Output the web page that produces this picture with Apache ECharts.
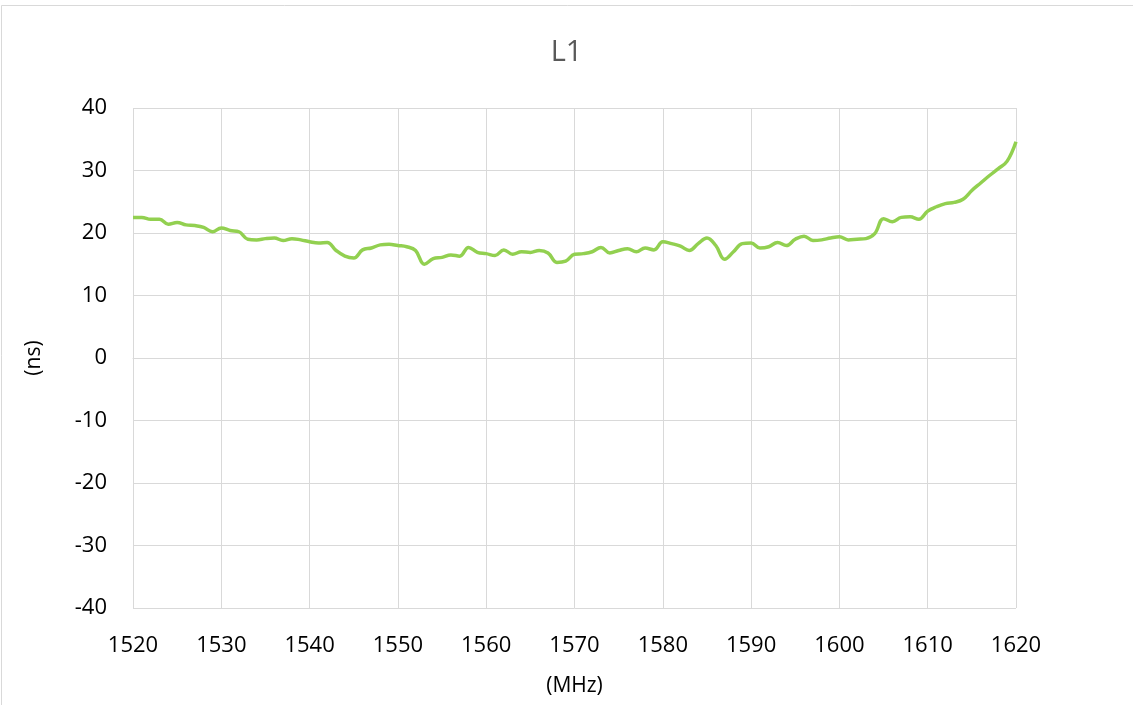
<!DOCTYPE html>
<html>
<head>
<meta charset="utf-8">
<script src="https://cdn.jsdelivr.net/npm/echarts@6/dist/echarts.min.js"></script>
<style>
  html, body { margin: 0; padding: 0; background: #fff; }
  #chart { width: 1133px; height: 705px; }
</style>
</head>
<body>
<div id="chart"></div>
<script>
// 频率 (MHz) 与群时延 (ns)
var freqs = [];
for (var f = 1520; f <= 1620; f++) freqs.push(f);

var delays = [
  22.5, 22.5, 22.2, 22.2, 21.4, 21.7, 21.3, 21.2, 20.9, 20.2,
  20.8, 20.4, 20.2, 19.0, 18.9, 19.1, 19.2, 18.8, 19.1, 18.9,
  18.6, 18.4, 18.5, 17.2, 16.3, 16.0, 17.3, 17.6, 18.1, 18.2,
  18.0, 17.8, 17.2, 15.0, 15.9, 16.1, 16.5, 16.3, 17.7, 16.9,
  16.7, 16.4, 17.3, 16.6, 17.0, 16.9, 17.2, 16.8, 15.3, 15.5,
  16.6, 16.7, 17.0, 17.7, 16.8, 17.2, 17.5, 17.0, 17.6, 17.3,
  18.6, 18.3, 17.9, 17.2, 18.3, 19.2, 18.0, 15.8, 17.0, 18.3,
  18.4, 17.6, 17.8, 18.5, 18.0, 19.0, 19.5, 18.8, 18.9, 19.2,
  19.4, 18.9, 19.0, 19.1, 19.9, 22.3, 21.8, 22.5, 22.6, 22.2,
  23.5, 24.2, 24.7, 24.9, 25.4, 26.8, 28.0, 29.2, 30.3, 31.5,
  34.6
];

var lineData = freqs.map(function (x, i) { return [x, delays[i]]; });

var dom = document.getElementById("chart");
var myChart = echarts.init(dom);
var option = {
    animation: false,
    backgroundColor: '#fff',
    textStyle: { fontFamily: 'Open Sans, Liberation Sans, sans-serif' },
    title: {
        text: 'L1',
        left: 'center',
        top: 33,
        textStyle: { color: '#595959', fontSize: 29, fontWeight: 'normal' }
    },
    graphic: [{
        type: 'rect',
        shape: { x: 1.5, y: 5.5, width: 1140, height: 710 },
        style: { fill: 'none', stroke: '#d9d9d9', lineWidth: 1 },
        silent: true
    }],
    grid: { left: 133, right: 117, top: 108, bottom: 97, containLabel: false, outerBoundsMode: 'none' },
    xAxis: {
        type: 'value',
        min: 1520,
        max: 1620,
        interval: 10,
        name: '(MHz)',
        nameLocation: 'middle',
        nameGap: 68,
        nameTextStyle: { color: '#000', fontSize: 21 },
        axisLine: { show: true, lineStyle: { color: '#d9d9d9', width: 1 } },
        axisTick: { show: false },
        axisLabel: { color: '#000', fontSize: 22, margin: 27, formatter: function (v) { return String(v); } },
        splitLine: { show: true, lineStyle: { color: '#d9d9d9', width: 1 } }
    },
    yAxis: {
        type: 'value',
        min: -40,
        max: 40,
        interval: 10,
        name: '(ns)',
        nameLocation: 'middle',
        nameGap: 88,
        nameTextStyle: { color: '#000', fontSize: 21 },
        axisLine: { show: false },
        axisTick: { show: false },
        axisLabel: { color: '#000', fontSize: 22, margin: 26 },
        splitLine: { show: true, lineStyle: { color: '#d9d9d9', width: 1 } }
    },
    series: [{
        name: 'L1',
        type: 'line',
        data: lineData,
        smooth: 0.4,
        showSymbol: false,
        lineStyle: { color: '#92d050', width: 3.5 },
        itemStyle: { color: '#92d050' }
    }]
};
myChart.setOption(option);
</script>
</body>
</html>
